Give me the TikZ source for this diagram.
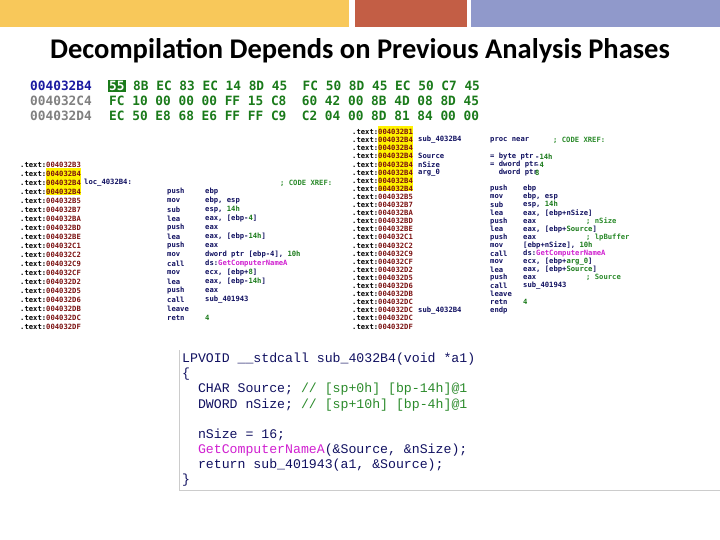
\documentclass[tikz,border=0pt]{standalone}
\usepackage{fontspec}
\setmainfont{Carlito}
\newfontfamily\dmono{DejaVu Sans Mono}
\newfontfamily\lmono{Liberation Mono}
\definecolor{barY}{HTML}{F8C85A}
\definecolor{barR}{HTML}{C35E45}
\definecolor{barB}{HTML}{9099CB}
\definecolor{hexG}{HTML}{1A7A1A}
\definecolor{addrB}{HTML}{1A1AA0}
\definecolor{addrR}{HTML}{7A1010}
\definecolor{navy}{HTML}{101060}
\definecolor{hl}{HTML}{FFF200}
\definecolor{mag}{HTML}{D020D0}
\definecolor{cmt}{HTML}{2A8A2A}
\tikzset{
 txt/.style={anchor=west,inner sep=0pt},
 hex/.style={txt,font=\dmono\bfseries\fontsize{12.8}{14}\selectfont},
 dis/.style={txt,font=\dmono\bfseries\fontsize{7.2}{8}\selectfont,text=navy},
 code/.style={txt,font=\lmono\fontsize{13.2}{15}\selectfont,text=navy},
}
\begin{document}
\begin{tikzpicture}[x=1pt,y=-1pt]
\useasboundingbox (0,0) rectangle (720,540);
\fill[barY] (0,0) rectangle (349,27);
\fill[barR] (355,0) rectangle (467,27);
\fill[barB] (471,0) rectangle (720,27);
\node[font=\bfseries\fontsize{28.5}{32}\selectfont] (title) at (360,51) {Decompilation Depends on Previous Analysis Phases};
% hex dump
\node[hex,text=addrB] (a1) at (30,86) {004032B4};
\node[hex,text=gray] (a2) at (30,101) {004032C4};
\node[hex,text=gray] (a3) at (30,116) {004032D4};
\node[hex,fill=hexG,text=white,inner sep=1pt] (h0) at (108,86) {55};
\node[hex,text=hexG] (h1) at (133,86) {8B EC 83 EC 14 8D 45\ \ FC 50 8D 45 EC 50 C7 45};
\node[hex,text=hexG] (h2) at (109,101) {FC 10 00 00 00 FF 15 C8\ \ 60 42 00 8B 4D 08 8D 45};
\node[hex,text=hexG] (h3) at (109,116) {EC 50 E8 68 E6 FF FF C9\ \ C2 04 00 8D 81 84 00 00};
% left disassembly
\foreach \ad/\lb/\mn/\op [count=\i from 0] in {
 {004032B3}/{}/{}/{},
 {004032B4}/{}/{}/{},
 {004032B4}/{loc\_4032B4:}/{}/{\hspace{75pt}\textcolor{cmt}{; CODE XREF:}},
 {004032B4}/{}/{push}/{ebp},
 {004032B5}/{}/{mov}/{ebp, esp},
 {004032B7}/{}/{sub}/{esp, \textcolor{hexG}{14h}},
 {004032BA}/{}/{lea}/{eax, [ebp-\textcolor{hexG}{4}]},
 {004032BD}/{}/{push}/{eax},
 {004032BE}/{}/{lea}/{eax, [ebp-\textcolor{hexG}{14h}]},
 {004032C1}/{}/{push}/{eax},
 {004032C2}/{}/{mov}/{dword ptr [ebp-4], \textcolor{hexG}{10h}},
 {004032C9}/{}/{call}/{ds:\textcolor{mag}{GetComputerNameA}},
 {004032CF}/{}/{mov}/{ecx, [ebp+\textcolor{hexG}{8}]},
 {004032D2}/{}/{lea}/{eax, [ebp-\textcolor{hexG}{14h}]},
 {004032D5}/{}/{push}/{eax},
 {004032D6}/{}/{call}/{sub\_401943},
 {004032DB}/{}/{leave}/{},
 {004032DC}/{}/{retn}/{\textcolor{hexG}{4}},
 {004032DF}/{}/{}/{}}
{
 \ifnum\i>0 \ifnum\i<4 \def\bg{hl}\else\def\bg{white}\fi\else\def\bg{white}\fi
 \node[dis,text=black] (la\i) at (20,{165+9*\i}) {.text:\colorbox{\bg}{\hspace{-3pt}\textcolor{addrR}{\ad}\hspace{-3pt}}};
 \node[dis] (ll\i) at (84,{165+9*\i}) {\lb};
 \node[dis] (lm\i) at (167,{165+9*\i}) {\mn};
 \node[dis] (lo\i) at (205,{165+9*\i}) {\op};
}
% right disassembly
\foreach \ad/\lb/\mn/\op [count=\i from 0] in {
 {004032B1}/{}/{}/{},
 {004032B4}/{sub\_4032B4}/{proc near}/{\hspace{30pt}\textcolor{cmt}{; CODE XREF:}},
 {004032B4}/{}/{}/{},
 {004032B4}/{Source}/{= byte ptr}/{\hspace{12pt}-\textcolor{hexG}{14h}},
 {004032B4}/{nSize}/{= dword ptr}/{\hspace{12pt}-\textcolor{hexG}{4}},
 {004032B4}/{arg\_0}/{\ \ dword ptr}/{\hspace{12pt}\textcolor{hexG}{8}},
 {004032B4}/{}/{}/{},
 {004032B4}/{}/{push}/{ebp},
 {004032B5}/{}/{mov}/{ebp, esp},
 {004032B7}/{}/{sub}/{esp, \textcolor{hexG}{14h}},
 {004032BA}/{}/{lea}/{eax, [ebp+nSize]},
 {004032BD}/{}/{push}/{eax\hspace{50pt}\textcolor{cmt}{; nSize}},
 {004032BE}/{}/{lea}/{eax, [ebp+\textcolor{hexG}{Source}]},
 {004032C1}/{}/{push}/{eax\hspace{50pt}\textcolor{cmt}{; lpBuffer}},
 {004032C2}/{}/{mov}/{[ebp+nSize], \textcolor{hexG}{10h}},
 {004032C9}/{}/{call}/{ds:\textcolor{mag}{GetComputerNameA}},
 {004032CF}/{}/{mov}/{ecx, [ebp+\textcolor{hexG}{arg\_0}]},
 {004032D2}/{}/{lea}/{eax, [ebp+\textcolor{hexG}{Source}]},
 {004032D5}/{}/{push}/{eax\hspace{50pt}\textcolor{cmt}{; Source}},
 {004032D6}/{}/{call}/{sub\_401943},
 {004032DB}/{}/{leave}/{},
 {004032DC}/{}/{retn}/{\textcolor{hexG}{4}},
 {004032DC}/{sub\_4032B4}/{endp}/{},
 {004032DC}/{}/{}/{},
 {004032DF}/{}/{}/{}}
{
 \ifnum\i<8 \def\bg{hl}\else\def\bg{white}\fi
 \node[dis,text=black] (ra\i) at (352,{132+8.1*\i}) {.text:\colorbox{\bg}{\hspace{-3pt}\textcolor{addrR}{\ad}\hspace{-3pt}}};
 \node[dis] (rl\i) at (418,{132+8.1*\i}) {\lb};
 \node[dis] (rm\i) at (490,{132+8.1*\i}) {\mn};
 \node[dis] (ro\i) at (523,{132+8.1*\i}) {\op};
}
% decompiled code
\draw[gray!40] (179,350) -- (179,490) -- (720,490);
\node[code] (c1) at (182,359) {LPVOID \_\_stdcall sub\_4032B4(void *a1)};
\node[code] (c2) at (182,374) {\{};
\node[code] (c3) at (182,389) {\ \ CHAR Source; \textcolor{cmt}{// [sp+0h] [bp-14h]@1}};
\node[code] (c4) at (182,405) {\ \ DWORD nSize; \textcolor{cmt}{// [sp+10h] [bp-4h]@1}};
\node[code] (c5) at (182,435) {\ \ nSize = 16;};
\node[code] (c6) at (182,450) {\ \ \textcolor{mag}{GetComputerNameA}(\&Source, \&nSize);};
\node[code] (c7) at (182,465) {\ \ return sub\_401943(a1, \&Source);};
\node[code] (c8) at (182,480) {\}};
\end{tikzpicture}
\end{document}
